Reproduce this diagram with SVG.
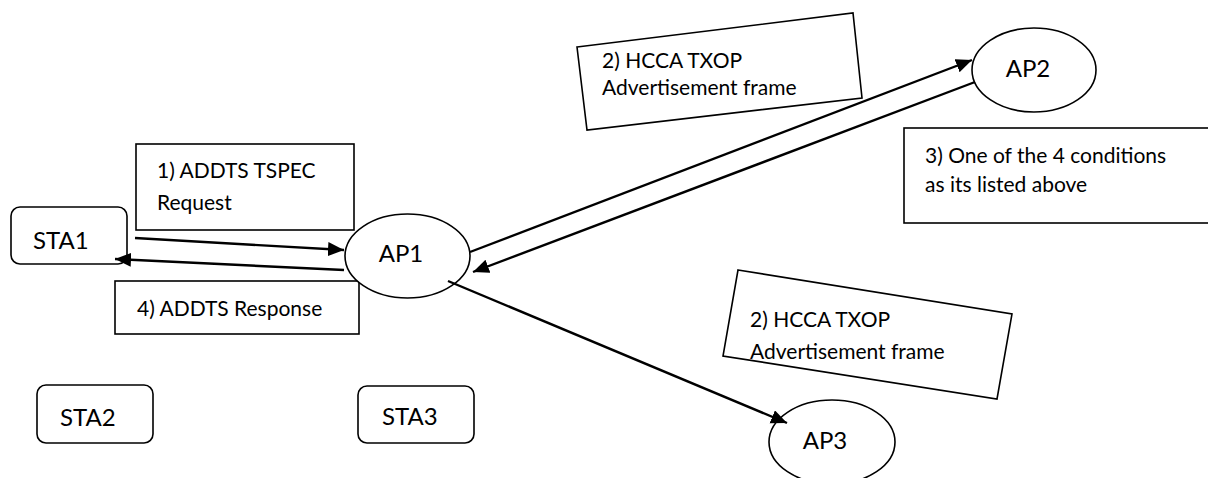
<svg xmlns="http://www.w3.org/2000/svg" width="1208" height="478" viewBox="0 0 1208 478">
<style>
.box{fill:#fff;stroke:#000;stroke-width:1.6}
.node{fill:#fff;stroke:#000;stroke-width:1.6}
.t{font-family:Lato,"Liberation Sans",sans-serif;font-size:21px;fill:#000}
.n{font-family:Lato,"Liberation Sans",sans-serif;font-size:24px;fill:#000}
.c{fill:none;stroke:#000;stroke-width:2.4}
</style>
<defs>
<marker id="ah" markerUnits="userSpaceOnUse" markerWidth="18" markerHeight="16" refX="16" refY="7" orient="auto">
<path d="M0,0 L16,7 L0,14 z" fill="#000"/>
</marker>
</defs>
<rect width="1208" height="478" fill="#fff"/>

<g id="label1">
<rect class="box" x="136" y="144" width="218" height="86"/>
<text class="t" x="157" y="178">1) ADDTS TSPEC</text>
<text class="t" x="157" y="210">Request</text>
</g>
<g id="label4">
<rect class="box" x="115" y="281" width="244" height="53"/>
<text class="t" x="137" y="316">4) ADDTS Response</text>
</g>
<g id="label2a">
<polygon class="box" points="577,47 853,13 862,98 587,130"/>
<text class="t" x="602" y="68">2) HCCA TXOP</text>
<text class="t" x="602" y="95">Advertisement frame</text>
</g>
<g id="label2b">
<polygon class="box" points="738,270 1012,314 997,399 723,356"/>
<text class="t" x="750" y="327">2) HCCA TXOP</text>
<text class="t" x="750" y="359">Advertisement frame</text>
</g>
<g id="label3">
<rect class="box" x="904" y="128" width="310" height="95"/>
<text class="t" x="925" y="163">3) One of the 4 conditions</text>
<text class="t" x="925" y="192">as its listed above</text>
</g>

<g id="STA1">
<rect class="node" x="11" y="207" width="116" height="57" rx="9"/>
<text class="n" x="33" y="249">STA1</text>
</g>
<g id="STA2">
<rect class="node" x="37" y="385" width="116" height="58" rx="9"/>
<text class="n" x="60" y="426">STA2</text>
</g>
<g id="STA3">
<rect class="node" x="358" y="386" width="116" height="57" rx="9"/>
<text class="n" x="382" y="425">STA3</text>
</g>
<g id="AP1">
<ellipse class="node" cx="407.5" cy="256" rx="62.5" ry="42"/>
<text class="n" x="401" y="262" text-anchor="middle">AP1</text>
</g>
<g id="AP2">
<ellipse class="node" cx="1034" cy="70" rx="62" ry="42"/>
<text class="n" x="1028" y="77" text-anchor="middle">AP2</text>
</g>
<g id="AP3">
<ellipse class="node" cx="832" cy="442" rx="63" ry="42"/>
<text class="n" x="825" y="449" text-anchor="middle">AP3</text>
</g>

<g id="connectors">
<line class="c" x1="135" y1="238" x2="344" y2="250" marker-end="url(#ah)"/>
<line class="c" x1="344" y1="270" x2="115" y2="259" marker-end="url(#ah)"/>
<line class="c" x1="470" y1="252" x2="972" y2="60" marker-end="url(#ah)"/>
<line class="c" x1="975" y1="82" x2="473" y2="272" marker-end="url(#ah)"/>
<line class="c" x1="448" y1="281" x2="787" y2="423" marker-end="url(#ah)"/>
</g>
</svg>
